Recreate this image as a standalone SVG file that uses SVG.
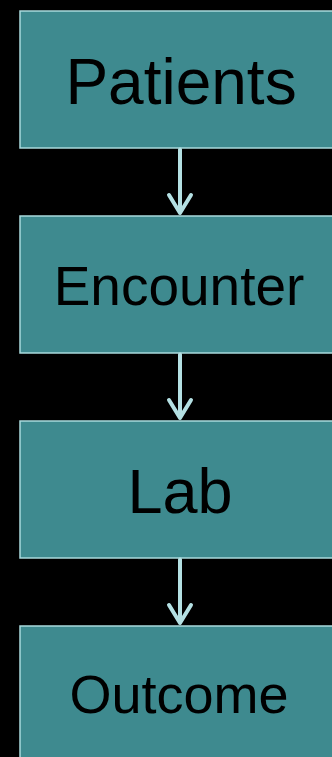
<svg xmlns="http://www.w3.org/2000/svg" width="332" height="757" viewBox="0 0 332 757">
<style>
.box{fill:#3e8a8f;stroke:#a9dadd;stroke-width:1.5}
.lbl{font-family:"Liberation Sans",Arial,sans-serif;fill:#000;text-anchor:middle}
.conn{fill:none;stroke:#b4e0e3;stroke-width:4;stroke-linecap:round;stroke-linejoin:round}
</style>
<rect width="332" height="757" fill="#000"/>
<g id="patients"><rect class="box" x="20" y="11" width="330" height="137"/><text class="lbl" x="181" y="104" font-size="64">Patients</text></g>
<g id="encounter"><rect class="box" x="20" y="216" width="330" height="137"/><text class="lbl" x="179" y="305" font-size="55">Encounter</text></g>
<g id="lab"><rect class="box" x="20" y="421" width="330" height="137"/><text class="lbl" x="180" y="513" font-size="63">Lab</text></g>
<g id="outcome"><rect class="box" x="20" y="626" width="330" height="150"/><text class="lbl" x="179" y="713" font-size="54">Outcome</text></g>
<g id="connectors">
<path class="conn" d="M180 149.5V213M169 195L180 213L191 195"/>
<path class="conn" d="M180 354.5V418M169 400L180 418L191 400"/>
<path class="conn" d="M180 559.5V623M169 605L180 623L191 605"/>
</g>
</svg>
